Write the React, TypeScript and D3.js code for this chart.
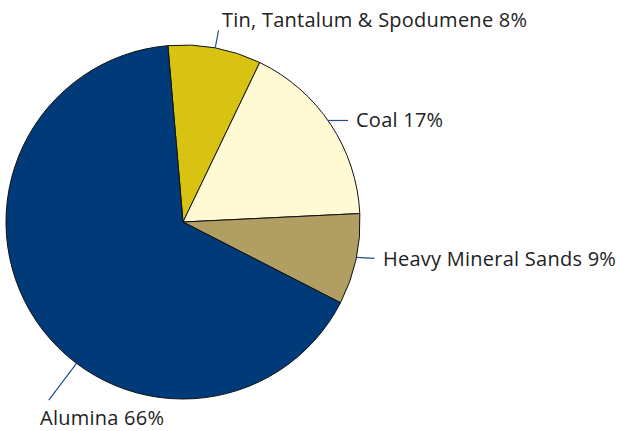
import { useEffect, useRef } from "react";
import * as d3 from "d3";

// slices clockwise from just left of 12 o'clock
const labels = ["Tin, Tantalum & Spodumene", "Coal", "Heavy Mineral Sands", "Alumina"];
const values = [8.5, 17.1, 8.3, 66.1];
const pctLabels = ["8%", "17%", "9%", "66%"];
const colors = ["#D8C212", "#FFF9D4", "#B09E62", "#003A78"];

export default function App() {
  const ref = useRef<SVGSVGElement | null>(null);

  useEffect(() => {
    const svg = d3.select(ref.current);
    svg.selectAll("*").remove();

    const width = 618;
    const height = 431;
    const cx = 183;
    const cy = 222;
    const radius = 177;
    const start = (-4.9 * Math.PI) / 180;

    const data = labels.map((label, i) => ({ label, value: values[i], color: colors[i] }));
    const pie = d3.pie<any>().value((d) => d.value).sort(null)
      .startAngle(start).endAngle(start + 2 * Math.PI);
    const arc = d3.arc<any>().innerRadius(0).outerRadius(radius);
    const arcs = pie(data);

    svg.attr("width", width).attr("height", height);
    const g = svg.append("g").attr("transform", `translate(${cx},${cy})`);

    g.selectAll("path").data(arcs).join("path")
      .attr("d", arc).attr("fill", (d) => d.data.color)
      .attr("stroke", "#111").attr("stroke-width", 1);

    // leader line: angle on rim (deg from top), length, text position
    const leaders = [
      { a: 10.5, len: 18, tx: 222, ty: 27 },
      { a: 55, len: 20, tx: 356, ty: 127 },
      { a: 101.5, len: 18, tx: 383, ty: 266 },
      { a: 217, len: 46, tx: 40, ty: 425 },
    ];

    leaders.forEach((l, i) => {
      const rad = (l.a * Math.PI) / 180;
      const x1 = Math.sin(rad) * radius;
      const y1 = -Math.cos(rad) * radius;
      let x2 = Math.sin(rad) * (radius + l.len);
      let y2 = -Math.cos(rad) * (radius + l.len);
      if (i === 1 || i === 2) { x2 = x1 + l.len; y2 = y1 + (i === 2 ? 1 : 0); }
      g.append("line").attr("x1", x1).attr("y1", y1).attr("x2", x2).attr("y2", y2)
        .attr("stroke", "#1F4E8C").attr("stroke-width", 1.2);
      svg.append("text").attr("x", l.tx).attr("y", l.ty)
        .attr("font-family", "'Open Sans', 'Noto Sans', sans-serif").attr("font-size", 20)
        .attr("letter-spacing", 0.25)
        .attr("fill", "#222").text(`${labels[i]} ${pctLabels[i]}`);
    });
  }, []);

  return <svg ref={ref} style={{ position: "absolute", left: 0, top: 0 }} />;
}
